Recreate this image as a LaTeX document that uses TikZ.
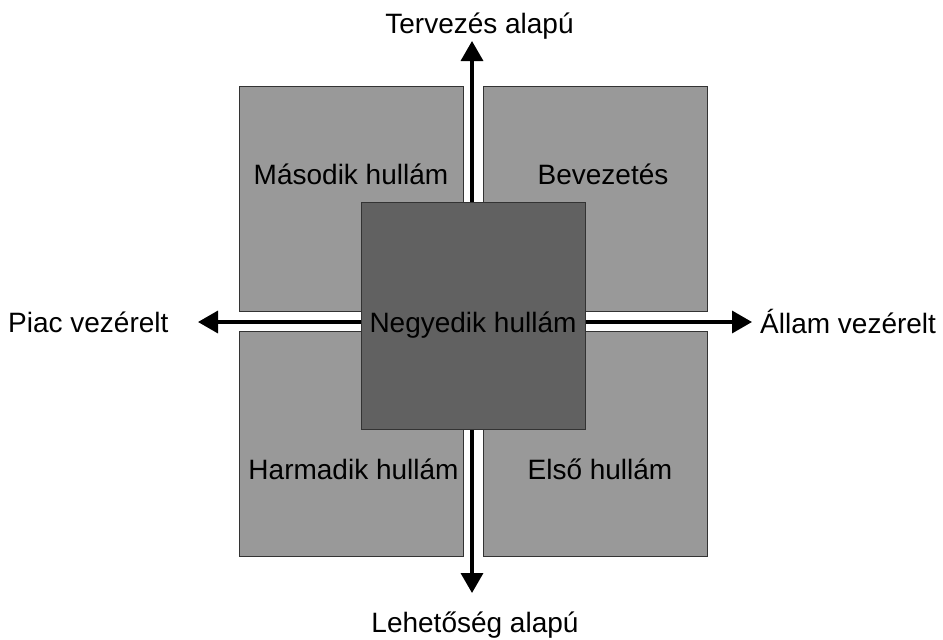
\documentclass[tikz,border=0pt]{standalone}
\usepackage{fontspec}
\setmainfont{Liberation Sans}
\usetikzlibrary{arrows.meta}
\tikzset{
  wave/.style={draw=black!80, line width=0.8pt, fill=black!40, inner sep=0pt,
    minimum width=224pt, minimum height=225pt},
  axis/.style={line width=3.5pt, -{Triangle[length=20pt,width=22pt]}},
  lbl/.style={font=\fontsize{28}{34}\selectfont, anchor=base, inner sep=0pt}
}
\begin{document}
\begin{tikzpicture}[x=1pt,y=-1pt]
  \useasboundingbox (0,0) rectangle (943,640);
  % the four quadrants
  \node[wave] (masodik) at (351,199) {};
  \node[wave] (bevezetes) at (595.5,199) {};
  \node[wave] (harmadik) at (351,444) {};
  \node[wave] (elso) at (595.5,444) {};
  % axes
  \coordinate (o) at (472,322);
  \coordinate (up) at (472,41);
  \coordinate (down) at (472,593);
  \coordinate (left) at (198,322);
  \coordinate (right) at (752,322);
  \draw[axis] (o) -- (up);
  \draw[axis] (o) -- (down);
  \draw[axis] (o) -- (left);
  \draw[axis] (o) -- (right);
  % middle square
  \node[wave, fill=black!62, minimum height=227pt] (negyedik) at (473,315.5) {};
  % texts
  \node[lbl] (tmasodik) at (351,184) {Második hullám};
  \node[lbl] (tbevezetes) at (603,184) {Bevezetés};
  \node[lbl] (tharmadik) at (353.5,479) {Harmadik hullám};
  \node[lbl] (telso) at (600,479) {Első hullám};
  \node[lbl] (tnegyedik) at (473,332) {Negyedik hullám};
  \node[lbl] (tterv) at (479.5,33) {Tervezés alapú};
  \node[lbl] (tlehet) at (475,632) {Lehetőség alapú};
  \node[lbl, anchor=base west] (tpiac) at (8,332) {Piac vezérelt};
  \node[lbl, anchor=base west] (tallam) at (760,333) {Állam vezérelt};
\end{tikzpicture}
\end{document}
